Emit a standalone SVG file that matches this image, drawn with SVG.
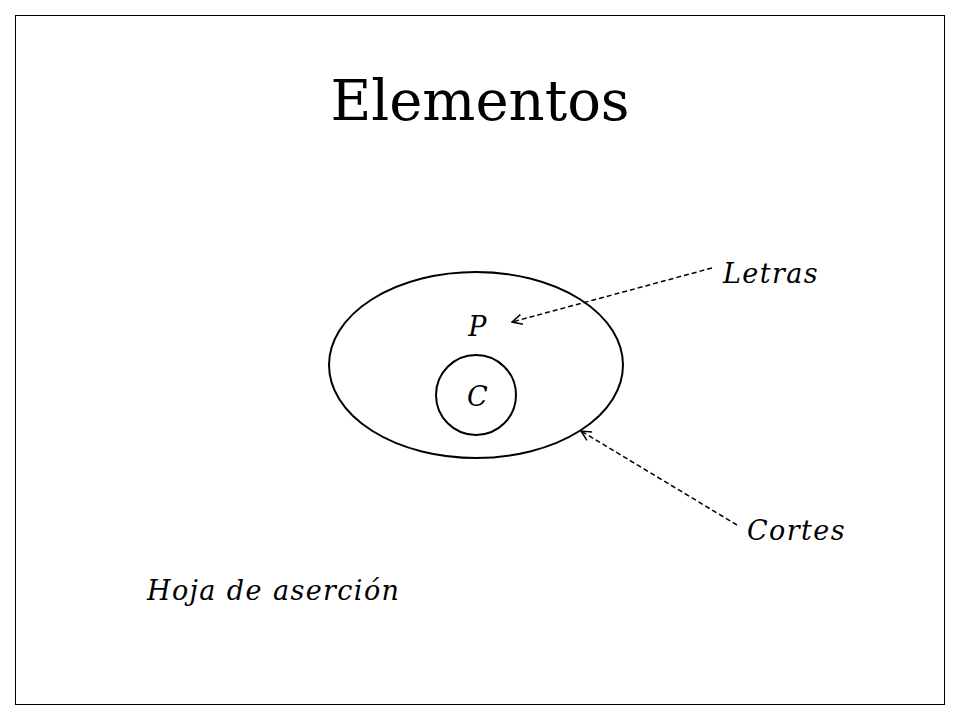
<svg xmlns="http://www.w3.org/2000/svg" width="960" height="720" viewBox="0 0 960 720">
<style>
.lbl{font-family:"DejaVu Serif","Liberation Serif",serif;font-style:italic;font-size:27px;letter-spacing:1.4px;fill:#000}
.shape{fill:none;stroke:#000;stroke-width:2}
.conn{stroke:#000;stroke-width:1.5;stroke-dasharray:5,3;fill:none;marker-end:url(#ah)}
</style>
<defs>
<marker id="ah" markerWidth="12" markerHeight="12" refX="11" refY="6" orient="auto" markerUnits="userSpaceOnUse">
<path d="M1,1 L11,6 L1,11" fill="none" stroke="#000" stroke-width="1.5"/>
</marker>
</defs>
<rect x="0" y="0" width="960" height="720" fill="#fff"/>
<rect x="15.5" y="15.5" width="929" height="689" fill="none" stroke="#000" stroke-width="1"/>
<text x="480" y="120" text-anchor="middle" font-family="DejaVu Serif, Liberation Serif, serif" font-size="56">Elementos</text>
<g id="corte-exterior"><ellipse class="shape" cx="476" cy="365" rx="147" ry="93"/><text class="lbl" x="478" y="336" text-anchor="middle">P</text></g>
<g id="corte-interior"><circle class="shape" cx="476" cy="395" r="40"/><text class="lbl" x="478" y="406" text-anchor="middle">C</text></g>
<g id="letras"><text class="lbl" x="723" y="283">Letras</text></g>
<g id="cortes"><text class="lbl" x="747" y="540">Cortes</text></g>
<g id="hoja"><text class="lbl" x="147" y="600">Hoja de aserción</text></g>
<g id="connectors">
<line class="conn" x1="712" y1="268" x2="512" y2="322"/>
<line class="conn" x1="737" y1="525" x2="581" y2="431"/>
</g>
</svg>
